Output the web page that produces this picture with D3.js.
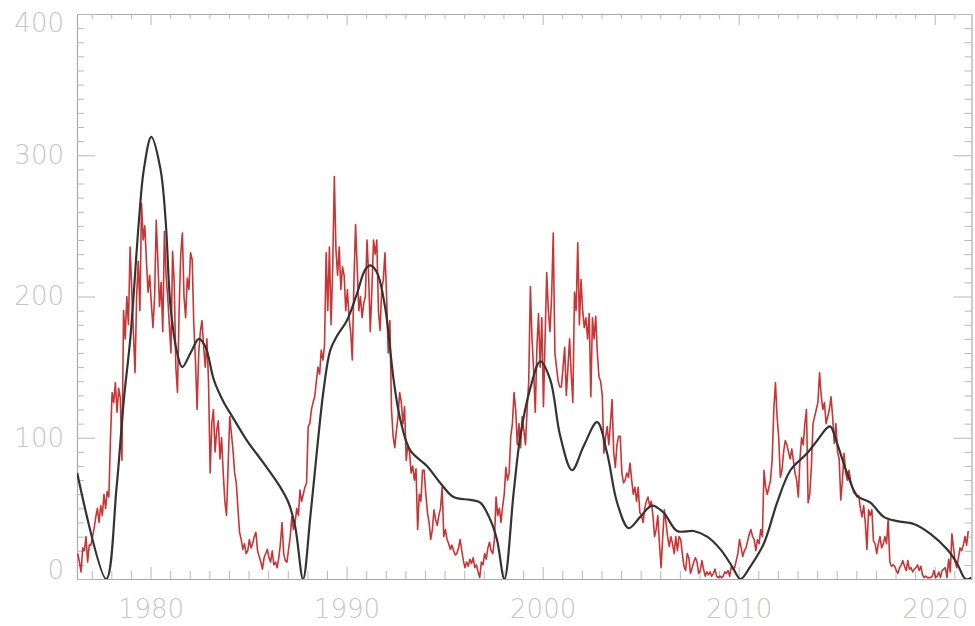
<!DOCTYPE html>
<html>
<head>
<meta charset="utf-8">
<script src="https://cdn.jsdelivr.net/npm/d3@7"></script>
<style>
  html, body { margin: 0; padding: 0; background: #fff; }
  svg { display: block; }
</style>
</head>
<body>
<svg id="chart"></svg>
<script>
// Monthly sunspot number (red), first value is April 1976
const monthlyStart = 1976 + 3 / 12;
const monthlyValues = [
    18, 12, 5, 22, 20, 30, 12, 24,
    24, 30, 36, 44, 50, 40, 52, 45, 60, 50, 62, 58,
    100, 132, 125, 139, 118, 135, 128, 84, 190, 170, 200, 180,
    235, 205, 175, 146, 200, 225, 190, 266, 240, 250, 225, 203,
    215, 195, 178, 200, 254, 225, 193, 210, 175, 246, 215, 200,
    180, 160, 232, 210, 150, 132, 190, 230, 245, 200, 185, 213,
    205, 231, 226, 180, 155, 120, 160, 175, 183, 165, 150, 170,
    140, 75, 110, 120, 90, 105, 112, 85, 100, 75, 55, 45,
    80, 115, 103, 91, 75, 68, 50, 33, 28, 21, 25, 18,
    20, 28, 22, 25, 30, 33, 20, 16, 12, 7, 15, 18,
    21, 15, 12, 20, 10, 12, 8, 15, 25, 40, 18, 13,
    12, 21, 30, 44, 35, 40, 50, 45, 63, 55, 60, 65,
    68, 108, 110, 120, 125, 129, 140, 150, 145, 162, 155, 165,
    231, 190, 235, 180, 220, 285, 233, 215, 235, 205, 221, 215,
    190, 205, 185, 175, 155, 210, 251, 220, 190, 200, 185, 195,
    200, 240, 215, 175, 205, 240, 230, 240, 190, 176, 205, 212,
    231, 200, 160, 183, 120, 101, 93, 105, 115, 132, 125, 110,
    122, 84, 95, 90, 75, 80, 70, 78, 35, 60, 55, 77,
    77, 60, 47, 40, 28, 35, 49, 42, 38, 45, 50, 65,
    30, 35, 28, 25, 21, 24, 20, 17, 18, 22, 28, 20,
    13, 8, 12, 9, 14, 11, 15, 8, 10, 5, 1, 12,
    10, 18, 14, 22, 26, 20, 18, 28, 58, 45, 50, 40,
    51, 60, 79, 70, 75, 101, 110, 132, 120, 95, 110, 93,
    115, 105, 95, 120, 140, 207, 170, 148, 118, 164, 188, 150,
    185, 122, 170, 217, 190, 175, 200, 245, 160, 150, 140, 136,
    136, 150, 164, 130, 150, 170, 145, 125, 203, 190, 238, 180,
    212, 190, 178, 185, 170, 188, 129, 185, 170, 186, 160, 143,
    140, 130, 89, 100, 108, 95, 110, 127, 90, 79, 95, 101,
    101, 75, 68, 70, 75, 72, 82, 70, 60, 65, 55, 65,
    47, 45, 40, 50, 55, 58, 52, 55, 45, 30, 35, 45,
    25, 8, 30, 49, 40, 30, 23, 30, 25, 18, 30, 20,
    30, 28, 18, 9, 6, 18, 15, 4, 8, 12, 15, 12,
    4, 6, 13, 7, 2, 5, 3, 5, 2, 4, 7, 2,
    1, 2, 1, 2, 5, 4, 6, 2, 9, 7, 8, 13,
    18, 28, 22, 16, 20, 22, 27, 32, 35, 30, 28, 20,
    28, 25, 35, 30, 77, 65, 60, 65, 70, 85, 120, 139,
    115, 100, 72, 77, 90, 98, 95, 90, 85, 92, 84, 75,
    70, 58, 85, 100, 95, 110, 120, 54, 60, 80, 110, 115,
    120, 125, 146, 130, 120, 125, 110, 115, 120, 129, 115, 96,
    110, 90, 85, 56, 70, 89, 75, 70, 77, 70, 65, 61,
    60, 58, 59, 50, 44, 52, 40, 21, 49, 45, 49, 27,
    25, 18, 25, 30, 22, 25, 30, 25, 42, 12, 9, 10,
    9, 6, 4, 8, 10, 13, 9, 6, 13, 7, 8, 5,
    7, 8, 10, 6, 9, 3, 1, 2, 1, 1, 1, 2,
    6, 1, 2, 5, 1, 6, 7, 8, 1, 14, 5, 32,
    22, 12, 8, 15, 22, 20, 24, 30, 24, 34
];

const smoothYears = [
    1976.26, 1977.74, 1978.27, 1978.64, 1978.98, 1979.41, 1979.66, 1980.04, 1980.51, 1980.77,
    1981.02, 1981.36, 1981.62, 1982.04, 1982.47, 1982.81, 1983.23, 1983.74, 1984.17, 1984.92,
    1985.77, 1986.62, 1987.04, 1987.38, 1987.78, 1988.15, 1988.49, 1988.83, 1989.17, 1989.51,
    1990.02, 1990.53, 1990.95, 1991.21, 1991.55, 1991.97, 1992.4, 1992.74, 1993.25, 1994.1,
    1994.78, 1995.46, 1996.31, 1996.82, 1997.33, 1997.67, 1998.05, 1998.52, 1998.86, 1999.37,
    1999.88, 2000.39, 2000.9, 2001.5, 2002.09, 2002.78, 2003.29, 2003.8, 2004.39, 2004.98,
    2005.58, 2006.17, 2006.86, 2007.7, 2008.39, 2009.07, 2009.66, 2010.09, 2010.6, 2011.28,
    2011.96, 2012.64, 2013.49, 2014.0, 2014.51, 2014.68, 2015.02, 2015.53, 2016.04, 2016.72,
    2017.4, 2018.08, 2018.93, 2019.78, 2020.63, 2021.14, 2021.57, 2021.87
];
const smoothValues = [
    75, 0, 65, 127, 172, 254, 290, 313, 290, 254,
    193, 160, 150, 160, 170, 164, 141, 125, 115, 98,
    82, 65, 54, 37, 0, 44, 91, 134, 162, 172,
    183, 202, 219, 222, 217, 192, 141, 113, 91, 80,
    68, 58, 56, 54, 42, 28, 0, 61, 101, 135,
    154, 141, 101, 77, 94, 111, 89, 54, 36, 44,
    52, 47, 34, 34, 30, 21, 9, 0, 9, 25,
    54, 77, 89, 98, 107, 108, 96, 75, 59, 54,
    44, 41, 39, 32, 21, 11, 0, 1
];

const yTicks = [0, 100, 200, 300, 400];
const xMajorTicks = [1980, 1990, 2000, 2010, 2020];

const width = 975;
const height = 626;
const plot = { left: 77, top: 14, right: 971.5, bottom: 579 };

const svg = d3.select("#chart")
    .attr("width", width)
    .attr("height", height);

const x = d3.scaleLinear().domain([1976.25, 2021.875]).range([plot.left, plot.right]);
const y = d3.scaleLinear().domain([0, 400]).range([plot.bottom, plot.top]);

const minorYears = d3.range(1977, 2022).filter(d => d % 10 !== 0);
const minorY = d3.range(0, 401, 10).filter(d => d % 100 !== 0);

const frameColor = "#a8a8a8";
const labelColor = "#c6c6c6";

svg.append("clipPath").attr("id", "plot-clip")
    .append("rect")
    .attr("x", plot.left).attr("y", plot.top - 2)
    .attr("width", plot.right - plot.left).attr("height", plot.bottom - plot.top + 2);

// Axis helper: draws one axis and styles it
function drawAxis(axis, transform, showDomain) {
    const g = svg.append("g").attr("transform", transform).call(axis);
    g.select(".domain").attr("stroke", frameColor).attr("stroke-width", 1.2)
        .style("display", showDomain ? null : "none");
    g.selectAll(".tick line").attr("stroke", "#b8b8b8").attr("stroke-width", 1);
    g.selectAll(".tick text")
        .attr("fill", labelColor)
        .style("font-family", "'DejaVu Sans', sans-serif")
        .style("font-weight", 200)
        .style("font-size", "26px");
    return g;
}

// bottom
drawAxis(d3.axisBottom(x).tickValues(minorYears).tickSize(-8).tickSizeOuter(0).tickFormat(""),
    `translate(0,${plot.bottom})`, true);
drawAxis(d3.axisBottom(x).tickValues(xMajorTicks).tickSize(-12).tickSizeOuter(0)
    .tickPadding(21).tickFormat(d3.format("d")), `translate(0,${plot.bottom})`, false);

// top
drawAxis(d3.axisTop(x).tickValues(minorYears).tickSize(-5).tickSizeOuter(0).tickFormat(""),
    `translate(0,${plot.top})`, true);
drawAxis(d3.axisTop(x).tickValues(xMajorTicks).tickSize(-11).tickSizeOuter(0).tickFormat(""),
    `translate(0,${plot.top})`, false);

// left
drawAxis(d3.axisLeft(y).tickValues(minorY).tickSize(-7).tickSizeOuter(0).tickFormat(""),
    `translate(${plot.left},0)`, true);
const leftMajor = drawAxis(d3.axisLeft(y).tickValues(yTicks).tickSize(-18).tickSizeOuter(0)
    .tickPadding(13).tickFormat(d3.format("d")), `translate(${plot.left},0)`, false);
// keep the end labels inside the frame height, as in the original
leftMajor.selectAll(".tick text")
    .attr("y", d => Math.min(Math.max(y(d), 23), 570) - y(d));

// right
drawAxis(d3.axisRight(y).tickValues(minorY).tickSize(-7).tickSizeOuter(0).tickFormat(""),
    `translate(${plot.right},0)`, true);
drawAxis(d3.axisRight(y).tickValues(yTicks).tickSize(-18).tickSizeOuter(0).tickFormat(""),
    `translate(${plot.right},0)`, false);

// Red monthly series
const monthly = monthlyValues.map((v, i) => ({ t: monthlyStart + i / 12 + 1 / 24, v: v }));

const redLine = d3.line()
    .x(d => x(d.t))
    .y(d => y(d.v));

svg.append("path")
    .datum(monthly)
    .attr("clip-path", "url(#plot-clip)")
    .attr("fill", "none")
    .attr("stroke", "#c01010")
    .attr("stroke-opacity", 0.85)
    .attr("stroke-width", 1.6)
    .attr("stroke-linejoin", "round")
    .attr("d", redLine);

// Black smooth curve
const smooth = smoothYears.map((t, i) => ({ t: t, v: smoothValues[i] }));

const blackLine = d3.line()
    .curve(d3.curveCatmullRom.alpha(0.5))
    .x(d => x(d.t))
    .y(d => y(d.v));

svg.append("path")
    .datum(smooth)
    .attr("clip-path", "url(#plot-clip)")
    .attr("fill", "none")
    .attr("stroke", "#333")
    .attr("stroke-width", 2.2)
    .attr("d", blackLine);
</script>
</body>
</html>
